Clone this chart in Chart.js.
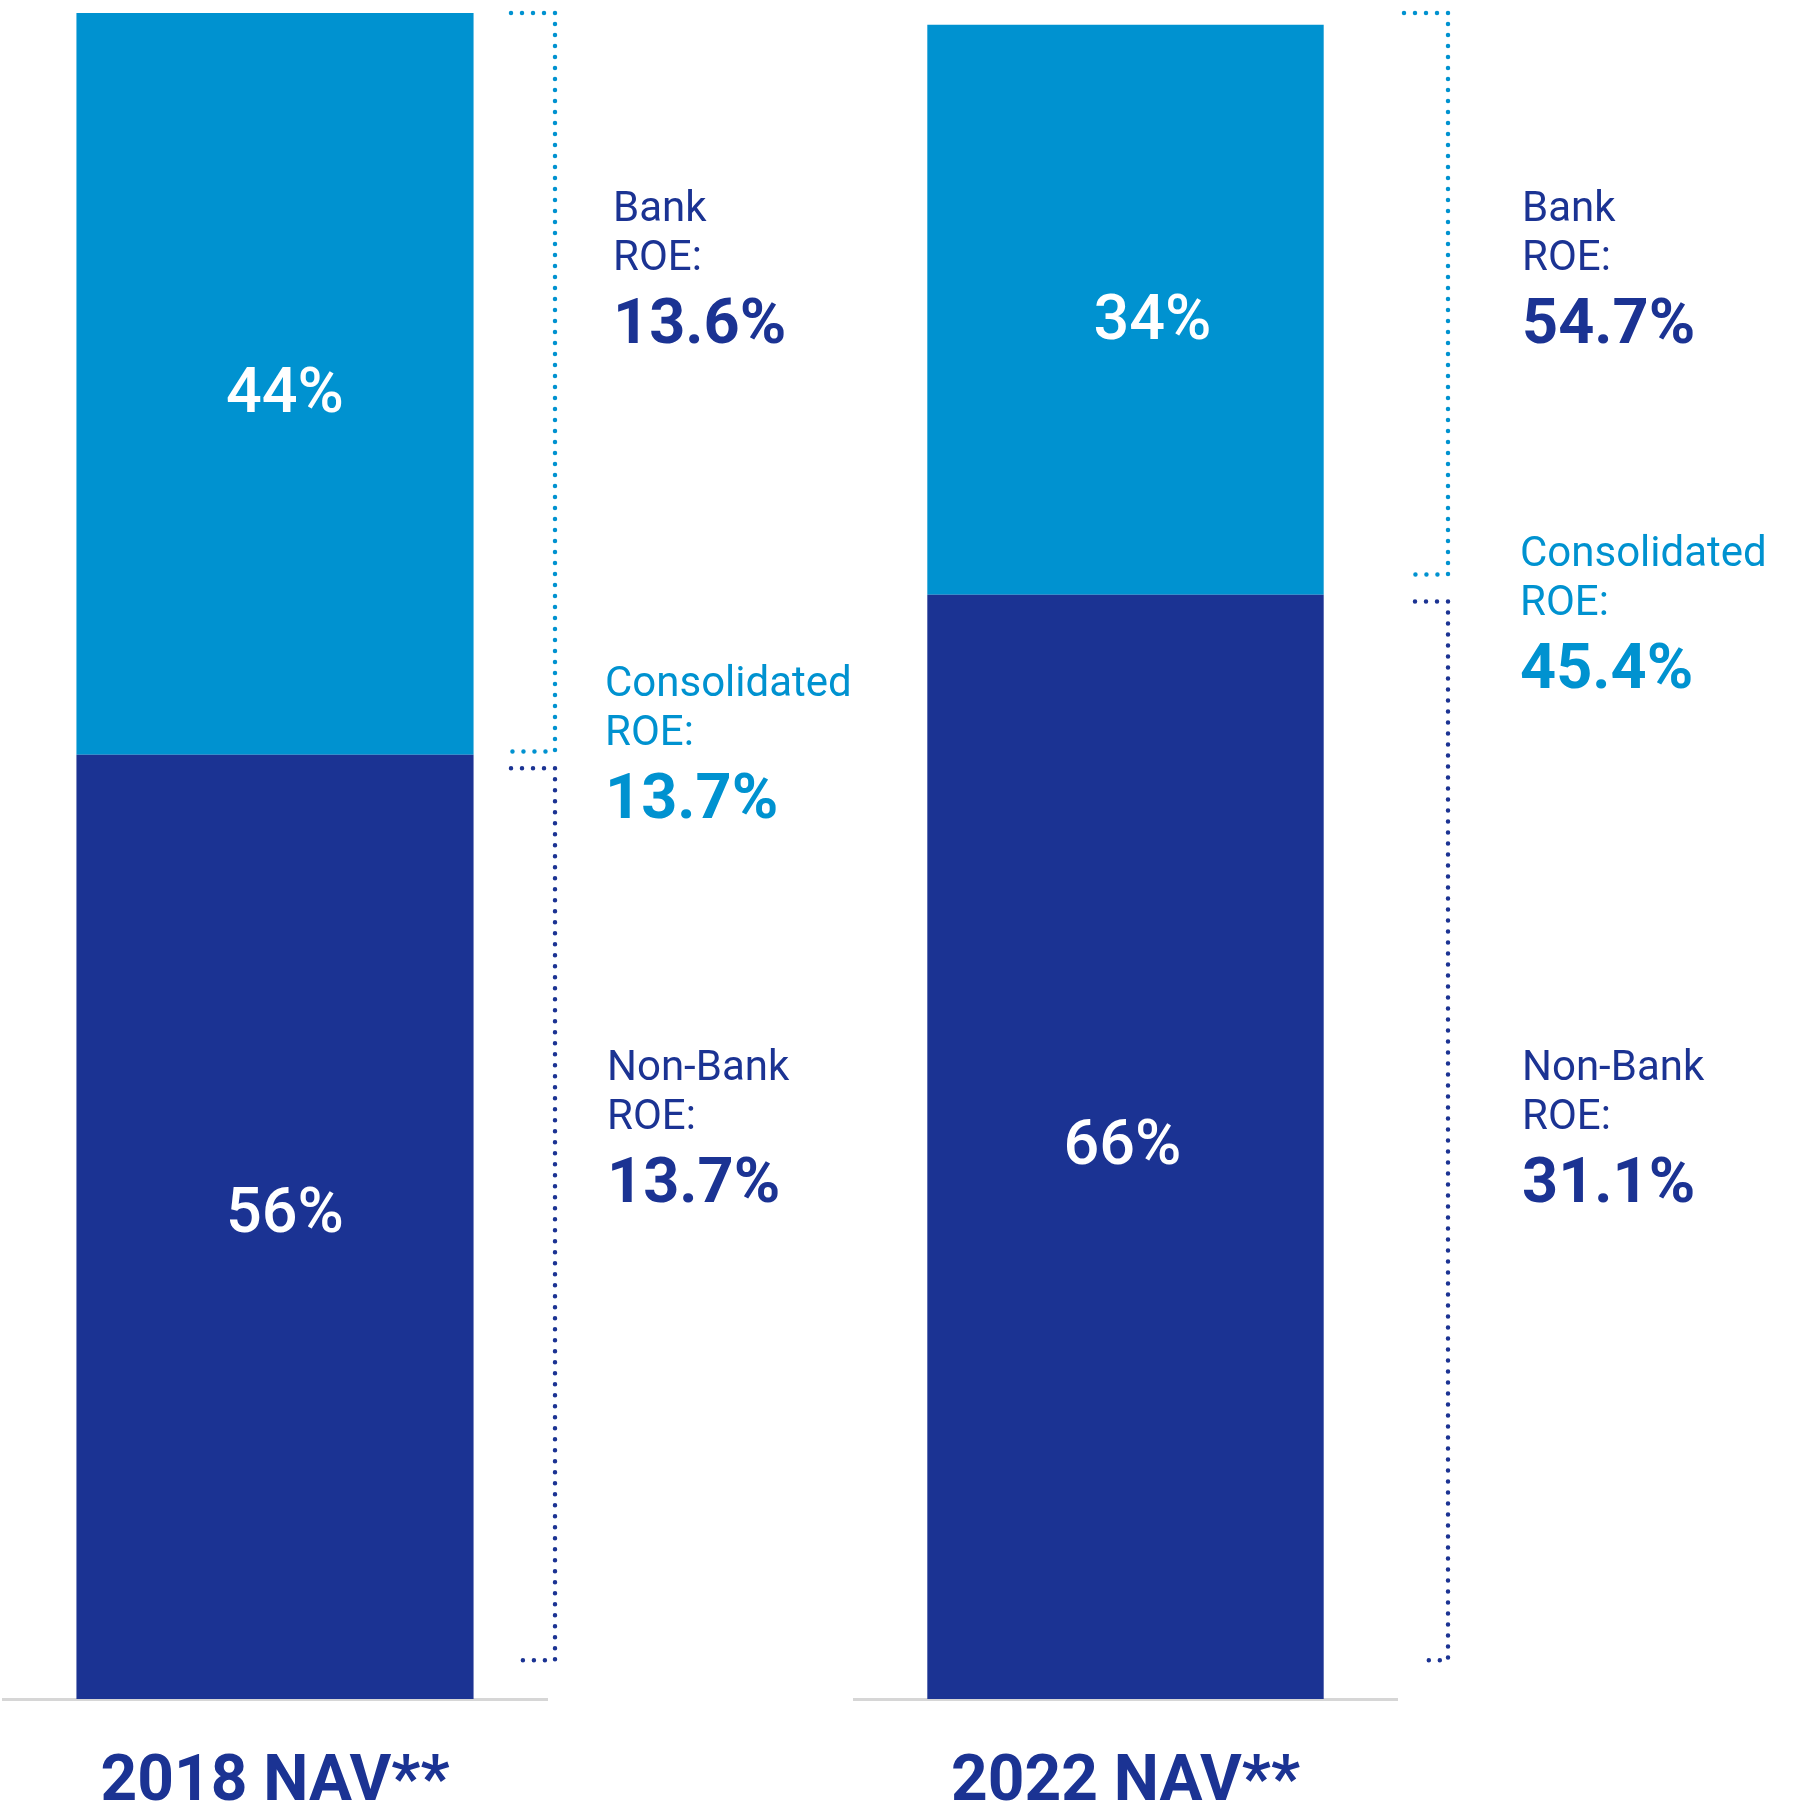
<!DOCTYPE html>
<html>
<head>
<meta charset="utf-8">
<title>NAV split and ROE</title>
<script src="https://cdn.jsdelivr.net/npm/chart.js@4.4.1/dist/chart.umd.min.js"></script>
<style>
	html, body { margin: 0; padding: 0; background: #ffffff; }
	#stage { position: relative; width: 1793px; height: 1816px; overflow: hidden; }
	.panel { position: absolute; top: 0; height: 1816px; }
</style>
</head>
<body>
<div id="stage">
	<div class="panel" id="panel-0" style="left:0; width:900px;"><canvas id="nav-0"></canvas></div>
	<div class="panel" id="panel-1" style="left:840px; width:953px;"><canvas id="nav-1"></canvas></div>
</div>
<script>
// values
const categories = ['2018 NAV**', '2022 NAV**'];
const nonBankShare = [56, 65.5];
const bankShare = [44, 33.8];
const nonBankShareLabels = ['56%', '66%'];
const bankShareLabels = ['44%', '34%'];
const bankROE = [13.6, 54.7];
const consolidatedROE = [13.7, 45.4];
const nonBankROE = [13.7, 31.1];
// what each dotted bracket spans, in y-axis units
const bankBracket = [[100, 56.2], [100, 66.7]];
const nonBankBracket = [[55.2, 2.3], [65.1, 2.3]];

const NAVY = '#1b3393';
const SKY = '#0092d0';
const FONT = 'Roboto';

// per-panel layout
const panels = [
	{
		padding: { left: 3, right: 353, top: 13, bottom: 0 },
		textX: [66, 58, 60],
		blockTop: [221, 696, 1080],
		bracketX: 8,
		arms: [44, 44, 44, 33],
		shareNudge: [{ dx: 10, dy: 6 }, { dx: 10, dy: -17 }]
	},
	{
		padding: { left: 14, right: 396, top: 13, bottom: 0 },
		textX: [125, 123, 125],
		blockTop: [221, 566, 1080],
		bracketX: 51,
		arms: [44, 33, 33, 22],
		shareNudge: [{ dx: 27, dy: 7 }, { dx: -3, dy: -5 }]
	}
];

function dottedBracket(ctx, x, yTop, yBottom, armTop, armBottom, color) {
	ctx.save();
	ctx.strokeStyle = color;
	ctx.lineWidth = 4.5;
	ctx.lineCap = 'round';
	ctx.setLineDash([0, 11]);
	ctx.beginPath();
	ctx.moveTo(x - armTop, yTop);
	ctx.lineTo(x, yTop);
	ctx.lineTo(x, yBottom);
	ctx.lineTo(x - armBottom, yBottom);
	ctx.stroke();
	ctx.restore();
}

function roeBlock(ctx, x, y, title, value, color) {
	ctx.save();
	ctx.fillStyle = color;
	ctx.textAlign = 'left';
	ctx.textBaseline = 'alphabetic';
	ctx.font = `400 42px ${FONT}`;
	ctx.fillText(title, x, y);
	ctx.fillText('ROE:', x, y + 49);
	ctx.font = `700 63px ${FONT}`;
	ctx.fillText(value.toFixed(1) + '%', x, y + 122);
	ctx.restore();
}

const annotations = {
	id: 'annotations',
	afterDatasetsDraw(chart, args, opts) {
		const ctx = chart.ctx;
		const i = opts.index;
		const layout = panels[i];
		const area = chart.chartArea;
		const y = chart.scales.y;

		// share labels inside the bar segments
		const shareLabels = [nonBankShareLabels[i], bankShareLabels[i]];
		ctx.save();
		ctx.fillStyle = '#ffffff';
		ctx.textAlign = 'center';
		ctx.textBaseline = 'alphabetic';
		ctx.font = `500 63px ${FONT}`;
		chart.data.datasets.forEach((ds, d) => {
			const bar = chart.getDatasetMeta(d).data[0];
			const nudge = layout.shareNudge[d === 1 ? 0 : 1];
			const mid = (bar.y + bar.base) / 2;
			ctx.fillText(shareLabels[d], bar.x + nudge.dx, mid + nudge.dy + 22.4);
		});
		ctx.restore();

		// brackets
		const bx = area.right + layout.bracketX;
		dottedBracket(ctx, bx, y.getPixelForValue(bankBracket[i][0]), y.getPixelForValue(bankBracket[i][1]),
			layout.arms[0], layout.arms[1], SKY);
		dottedBracket(ctx, bx, y.getPixelForValue(nonBankBracket[i][0]), y.getPixelForValue(nonBankBracket[i][1]),
			layout.arms[2], layout.arms[3], NAVY);

		// ROE text
		roeBlock(ctx, area.right + layout.textX[0], layout.blockTop[0], 'Bank', bankROE[i], NAVY);
		roeBlock(ctx, area.right + layout.textX[1], layout.blockTop[1], 'Consolidated', consolidatedROE[i], SKY);
		roeBlock(ctx, area.right + layout.textX[2], layout.blockTop[2], 'Non-Bank', nonBankROE[i], NAVY);
	}
};

function buildChart(i) {
	const canvas = document.getElementById(`nav-${i}`);
	return new Chart(canvas, {
		type: 'bar',
		data: {
			labels: [categories[i]],
			datasets: [
				{ label: 'Non-Bank', data: [nonBankShare[i]], backgroundColor: NAVY },
				{ label: 'Bank', data: [bankShare[i]], backgroundColor: SKY }
			]
		},
		options: {
			responsive: true,
			maintainAspectRatio: false,
			animation: false,
			events: [],
			layout: { padding: panels[i].padding },
			datasets: {
				bar: { categoryPercentage: 1, barPercentage: 0.73, borderWidth: 0 }
			},
			scales: {
				x: {
					stacked: true,
					grid: { display: false, drawTicks: false },
					border: { display: true, color: '#d6d6d6', width: 3 },
					ticks: {
						color: NAVY,
						padding: 53,
						font: { family: FONT, size: 64, weight: 'bold', lineHeight: 1 }
					},
					// keep the plot bottom at the same place as the reference
					afterFit(scale) { scale.height = 117; }
				},
				y: { stacked: true, display: false, min: 0, max: 100 }
			},
			plugins: {
				legend: { display: false },
				tooltip: { enabled: false },
				annotations: { index: i }
			}
		},
		plugins: [annotations]
	});
}

categories.forEach((c, i) => buildChart(i));
</script>
</body>
</html>
